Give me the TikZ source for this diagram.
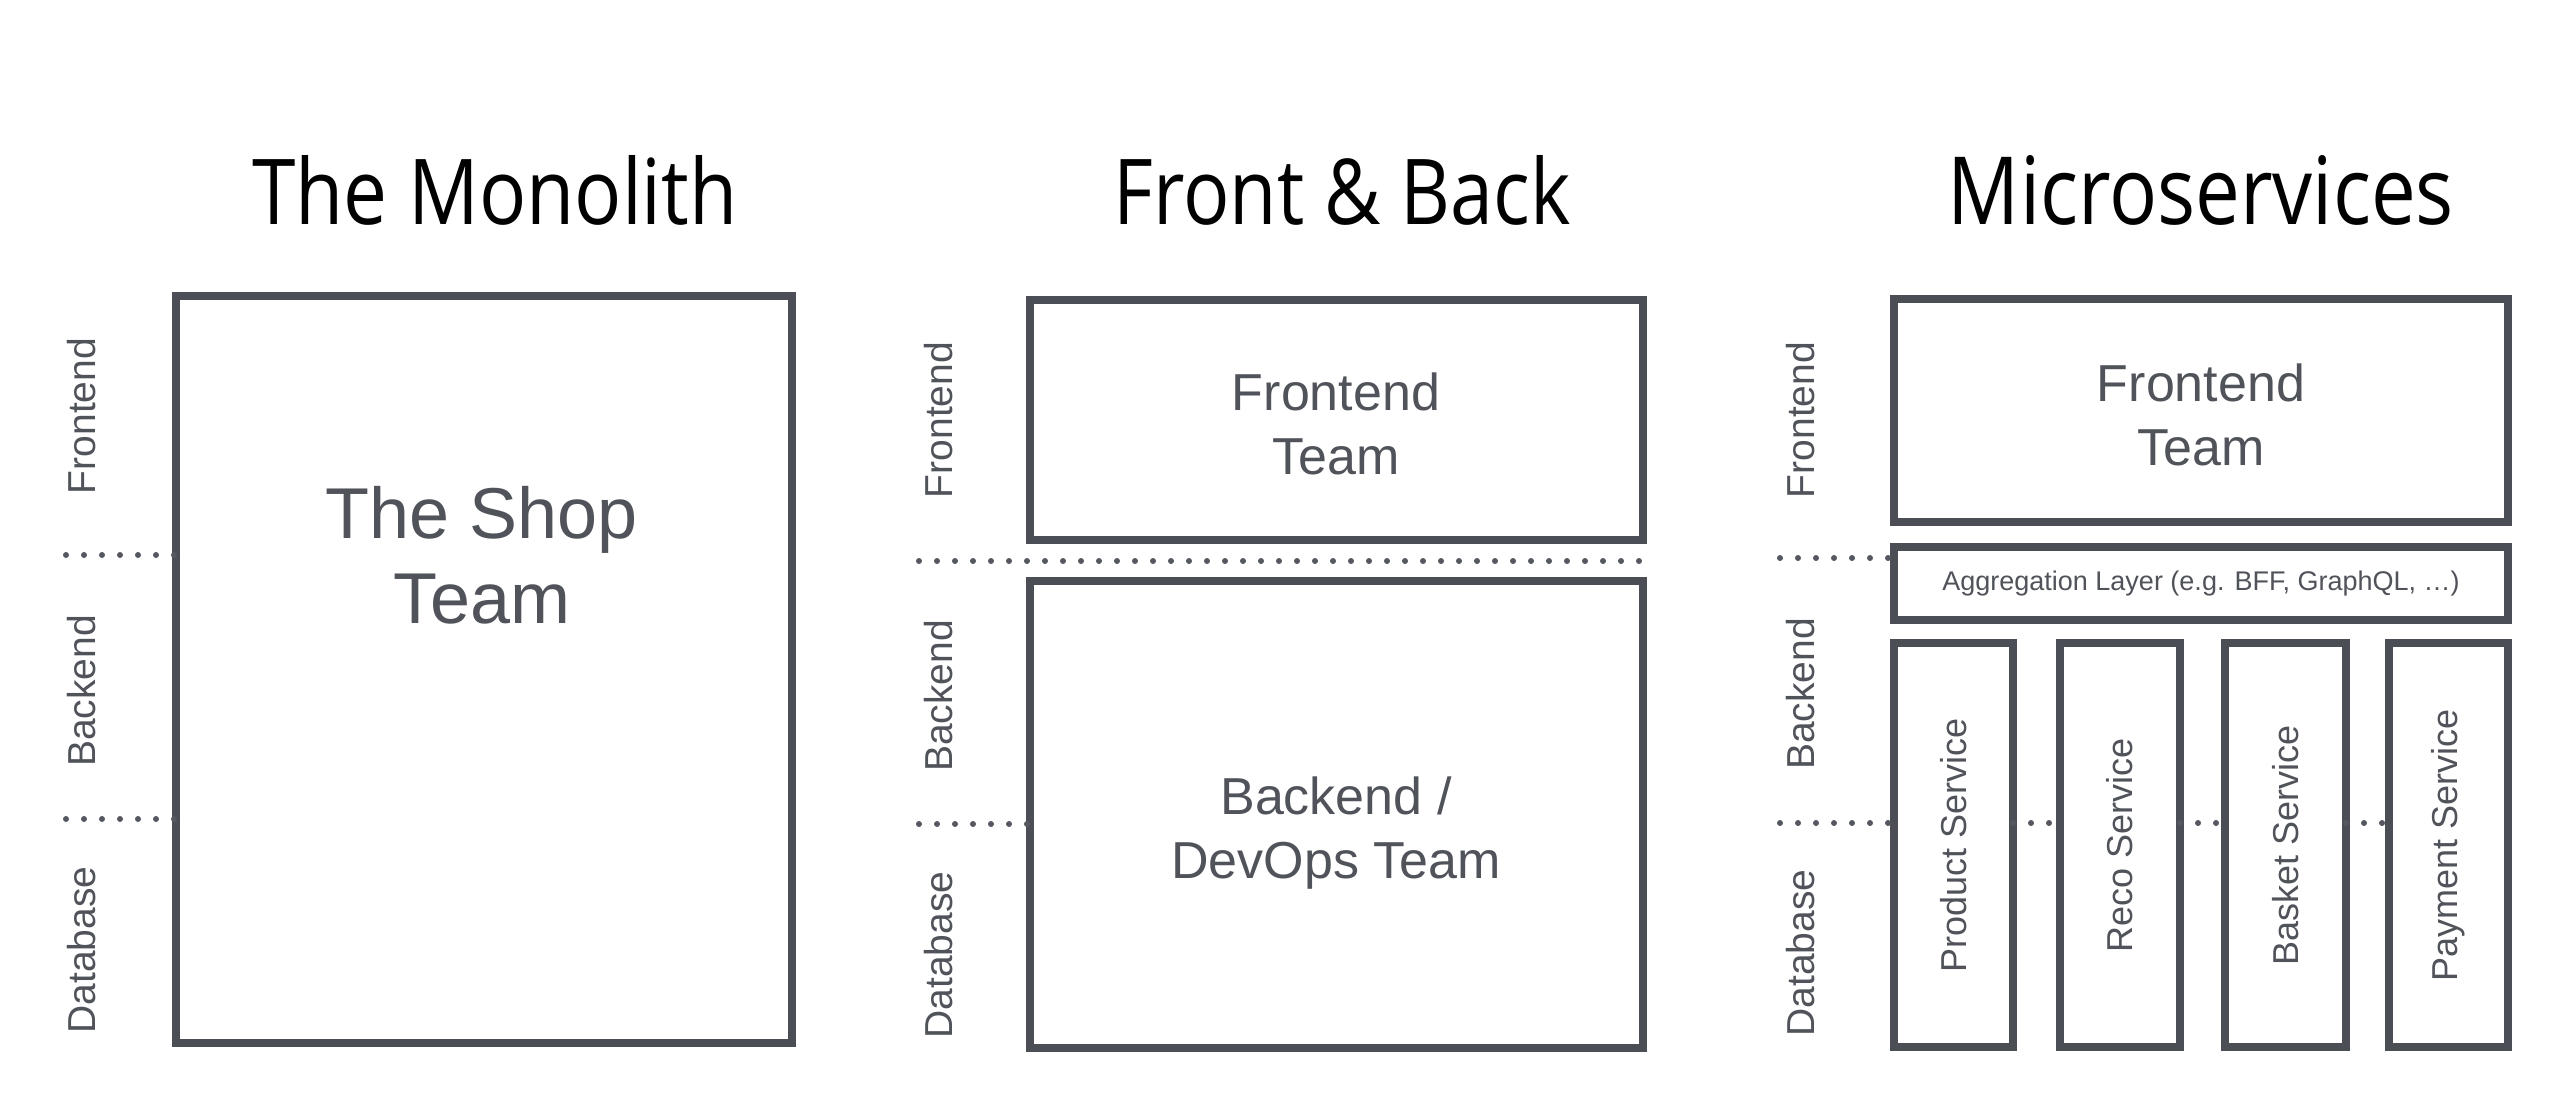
\documentclass[tikz,border=0pt]{standalone}
\usepackage{fontspec}
\setmainfont{Liberation Sans}
\newfontfamily\titlefont{Open Sans}
\definecolor{boxc}{HTML}{4B4E54}
\definecolor{txtc}{HTML}{50535A}
\definecolor{dotc}{HTML}{555860}
\begin{document}
\begin{tikzpicture}[x=1pt,y=-1pt,
  box/.style={draw=boxc, line width=8pt, rectangle, inner sep=0pt, outer sep=0pt},
  bigtxt/.style={text=txtc, align=center, inner sep=0pt, font=\fontsize{72}{85}\selectfont},
  midtxt/.style={text=txtc, align=center, inner sep=0pt, font=\fontsize{52}{64}\selectfont},
  side/.style={text=txtc, rotate=90, inner sep=0pt, font=\fontsize{39}{45}\selectfont},
  svc/.style={text=txtc, rotate=90, inner sep=0pt, font=\fontsize{36}{42}\selectfont},
  agg/.style={text=txtc, inner sep=0pt, font=\fontsize{27}{32}\selectfont},
  title/.style={text=black, anchor=base, inner sep=0pt, font=\titlefont},
  dotline/.style={draw=dotc, line width=6pt, line cap=round, dash pattern=on 0pt off 18pt}]
\useasboundingbox[fill=white] (0,0) rectangle (2560,1096);

% titles
\node[title] (tmono) at (495,224) {\resizebox{485pt}{69pt}{The Monolith}};
\node[title] (tfb) at (1342,224) {\resizebox{457pt}{69pt}{Front \& Back}};
\node[title] (tms) at (2201,224) {\resizebox{506pt}{69pt}{Microservices}};

% ---------- The Monolith ----------
\node[box, minimum width=616pt, minimum height=747pt] (mono) at (484,669.5) {};
\node[bigtxt] (shop) at (482,555) {The Shop\\Team};
\node[side] (mfe) at (82,416) {Frontend};
\node[side] (mbe) at (82,691) {Backend};
\node[side] (mdb) at (82,950) {Database};
\coordinate (md1) at (66,555);
\coordinate (md2) at (66,819);
\draw[dotline] (md1) -- (mono.west |- md1);
\draw[dotline] (md2) -- (mono.west |- md2);

% ---------- Front & Back ----------
\node[box, minimum width=613pt, minimum height=240pt] (fbf) at (1336.5,420) {};
\node[box, minimum width=613pt, minimum height=467pt] (fbb) at (1336.5,814.5) {};
\node[midtxt] (fbft) at (1336,424) {Frontend\\Team};
\node[midtxt] (fbbt) at (1336,833) {Backend /\\DevOps Team};
\node[side] (ffe) at (939,420) {Frontend};
\node[side] (fbe) at (939,696) {Backend};
\node[side] (fdb) at (939,955) {Database};
\coordinate (fd1) at (919,561);
\coordinate (fd2) at (919,824);
\draw[dotline] (fd1) -- (fbf.east |- fd1);
\draw[dotline] (fd2) -- (fbb.west |- fd2);

% ---------- Microservices ----------
\node[box, minimum width=614pt, minimum height=223pt] (msf) at (2201,410.5) {};
\node[box, minimum width=614pt, minimum height=73pt] (msa) at (2201,583.5) {};
\node[box, minimum width=119pt, minimum height=404pt] (prod) at (1953.5,845) {};
\node[box, minimum width=120pt, minimum height=404pt] (reco) at (2120,845) {};
\node[box, minimum width=121pt, minimum height=404pt] (bask) at (2285.5,845) {};
\node[box, minimum width=119pt, minimum height=404pt] (pay) at (2448.5,845) {};
\node[midtxt] (msft) at (2201,415) {Frontend\\Team};
\node[agg] (msat) at (msa.center) {Aggregation Layer (e.g. BFF, GraphQL, …)};
\node[svc] (prodt) at (prod.center) {Product Service};
\node[svc] (recot) at (reco.center) {Reco Service};
\node[svc] (baskt) at (bask.center) {Basket Service};
\node[svc] (payt) at (pay.center) {Payment Service};
\node[side] (sfe) at (1801,420) {Frontend};
\node[side] (sbe) at (1801,694) {Backend};
\node[side] (sdb) at (1801,953) {Database};
\coordinate (sd1) at (1780,558);
\coordinate (sd2) at (1780,823);
\draw[dotline] (sd1) -- (msa.west |- sd1);
\draw[dotline] (sd2) -- (prod.west |- sd2);
\draw[dotline] (prod.east |- sd2) -- (reco.west |- sd2);
\draw[dotline] (reco.east |- sd2) -- (bask.west |- sd2);
\draw[dotline] (bask.east |- sd2) -- (pay.west |- sd2);
\end{tikzpicture}
\end{document}
